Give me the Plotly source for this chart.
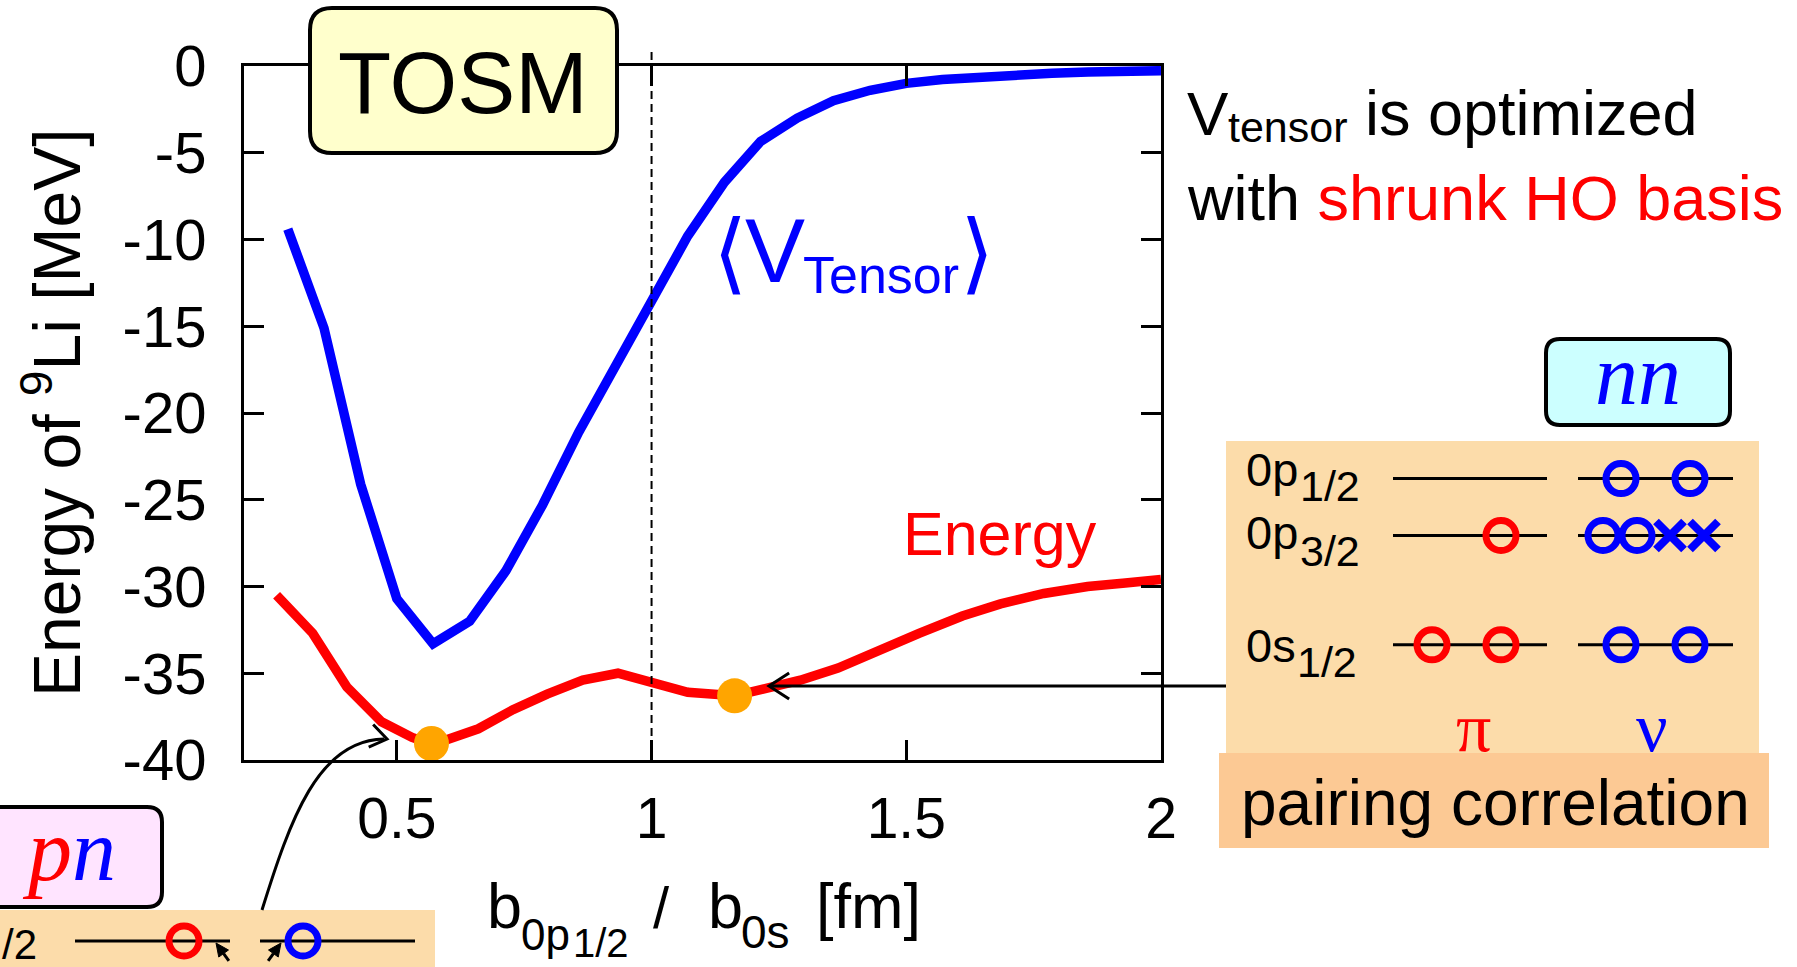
import math
import plotly.graph_objects as go

# ---------------------------------------------------------------- data
# b_{0p1/2} / b_{0s} values and the tensor-force expectation value [MeV]
b_vtensor = [0.286, 0.357, 0.429, 0.500, 0.571, 0.643, 0.714, 0.786, 0.857,
             0.929, 1.000, 1.071, 1.143, 1.214, 1.286, 1.357, 1.429, 1.500,
             1.571, 1.643, 1.714, 1.786, 1.857, 1.929, 2.000]
v_tensor = [-9.4, -15.1, -24.1, -30.7, -33.3, -32.0, -29.1, -25.3, -21.1,
            -17.3, -13.3, -9.8, -6.7, -4.35, -3.0, -2.0, -1.4, -1.0,
            -0.78, -0.62, -0.5, -0.42, -0.35, -0.3, -0.27]

# total energy of 9Li [MeV]
b_energy = [0.264, 0.335, 0.402, 0.470, 0.530, 0.571, 0.660, 0.728, 0.795,
            0.865, 0.934, 1.000, 1.071, 1.163, 1.218, 1.292, 1.366, 1.450,
            1.525, 1.610, 1.685, 1.770, 1.856, 1.930, 2.000]
energy = [-30.5, -32.7, -35.8, -37.8, -38.7, -39.1, -38.2, -37.1, -36.2,
          -35.4, -35.0, -35.5, -36.1, -36.3, -35.9, -35.4, -34.7, -33.6,
          -32.7, -31.7, -31.0, -30.4, -30.0, -29.8, -29.6]

# highlighted minima (pn and nn configurations)
b_marked = [0.568, 1.163]
e_marked = [-39.05, -36.3]

x_tickvals = [0.5, 1.0, 1.5, 2.0]
x_ticktext = ["0.5", "1", "1.5", "2"]
y_tickvals = [0, -5, -10, -15, -20, -25, -30, -35, -40]
y_ticktext = ["0", "-5", "-10", "-15", "-20", "-25", "-30", "-35", "-40"]

# ---------------------------------------------------------------- layout constants
W, H = 1797, 967
L, R, T, B = 244, 1161, 66, 760          # frame of the main plot (pixels)
SANS = "Liberation Sans, Arial, Helvetica, sans-serif"
SERIF = "Liberation Serif, Times New Roman, serif"
MATH = "DejaVu Sans, sans-serif"
RED, BLUE, BLACK = "#FF0000", "#0000FF", "#000000"
PEACH, PEACH_DARK = "#FCDCAA", "#FCC994"

fig = go.Figure()

fig.add_trace(go.Scatter(x=b_vtensor, y=v_tensor, mode="lines",
                         line=dict(color=BLUE, width=9.5), hoverinfo="skip"))
fig.add_trace(go.Scatter(x=b_energy, y=energy, mode="lines",
                         line=dict(color=RED, width=9.5), hoverinfo="skip"))
fig.add_trace(go.Scatter(x=b_marked, y=e_marked, mode="markers",
                         marker=dict(color="#FFA500", size=35), hoverinfo="skip"))

# ---------------------------------------------------------------- helpers (pixel space on x2/y2)
shapes, annotations = [], []


def pshape(**kw):
    d = dict(xref="x2", yref="y2")
    d.update(kw)
    shapes.append(d)


def rrect(x0, y0, x1, y1, r):
    return (f"M {x0+r},{y0} L {x1-r},{y0} Q {x1},{y0} {x1},{y0+r} "
            f"L {x1},{y1-r} Q {x1},{y1} {x1-r},{y1} L {x0+r},{y1} "
            f"Q {x0},{y1} {x0},{y1-r} L {x0},{y0+r} Q {x0},{y0} {x0+r},{y0} Z")


def vhead(tx, ty, dx, dy, length=22, half=32):
    n = math.hypot(dx, dy)
    bx, by = -dx / n, -dy / n
    a = math.radians(half)
    p = []
    for s in (a, -a):
        rx = bx * math.cos(s) - by * math.sin(s)
        ry = bx * math.sin(s) + by * math.cos(s)
        p.append((tx + rx * length, ty + ry * length))
    return f"M {p[0][0]},{p[0][1]} L {tx},{ty} L {p[1][0]},{p[1][1]}"


def solid_arrow(tx, ty, dx, dy, length=13, half_w=6, tail=9):
    n = math.hypot(dx, dy)
    ux, uy = dx / n, dy / n
    nx, ny = -uy, ux
    bx, by = tx - ux * length, ty - uy * length
    head = (f"M {tx},{ty} L {bx + nx*half_w},{by + ny*half_w} "
            f"L {bx - nx*half_w},{by - ny*half_w} Z")
    pshape(type="path", path=head, fillcolor=BLACK,
           line=dict(color=BLACK, width=1), layer="above")
    pshape(type="line", x0=bx, y0=by, x1=bx - ux * tail, y1=by - uy * tail,
           line=dict(color=BLACK, width=3), layer="above")


def text(x, base, s, size, color=BLACK, family=SANS, xanchor="left",
         asc=0.905, desc=0.212, angle=0):
    yc = base - (asc - desc) / 2 * size
    annotations.append(dict(x=x, y=yc, xref="x2", yref="y2", text=s,
                            showarrow=False, xanchor=xanchor, yanchor="middle",
                            borderpad=0, textangle=angle,
                            font=dict(size=size, color=color, family=family)))


# ---------------------------------------------------------------- vertical reference line at b = 1
shapes.append(dict(type="line", xref="x", yref="paper", x0=1.0, x1=1.0,
                   y0=1 - 52 / H, y1=1 - B / H,
                   line=dict(color=BLACK, width=2, dash="8px,5px"), layer="above"))

# ---------------------------------------------------------------- TOSM label box
pshape(type="path", path=rrect(310, 8, 617, 153, 22), fillcolor="#FFFFCC",
       line=dict(color=BLACK, width=4), layer="above")
text(463, 113, "TOSM", 87, xanchor="center")

# ---------------------------------------------------------------- curve labels
text(730, 283, "⟨", 88, BLUE, MATH, "center", 0.928, 0.236)
text(744, 282, "V", 90, BLUE)
text(802, 293, "Tensor", 52, BLUE)
text(977, 283, "⟩", 88, BLUE, MATH, "center", 0.928, 0.236)
text(902, 555, "Energy", 61, RED)

# ---------------------------------------------------------------- right-hand remark
text(1186, 135, "V", 62)
text(1227, 142, "tensor", 43)
text(1364, 135, "is optimized", 63)
text(1186, 220, "with <span style='color:#FF0000'>shrunk HO basis</span>", 63)

# ---------------------------------------------------------------- axis titles
text(52, 413 + 0.3465 * 66, "Energy of <sup>9</sup>Li [MeV]", 66, angle=-90,
     xanchor="center")
text(486, 928, "b", 63)
text(520, 950, "0p", 44)
text(572, 957, "1/2", 40)
text(652, 928, "/", 58)
text(707, 928, "b", 63)
text(740, 948, "0s", 46)
text(815, 928, "[fm]", 63)

# ---------------------------------------------------------------- nn configuration panel
pshape(type="path", path=rrect(1546, 339, 1730, 425, 14), fillcolor="#CCFFFF",
       line=dict(color=BLACK, width=4), layer="above")
text(1638, 404, "<i>nn</i>", 86, BLUE, SERIF, "center", 0.891, 0.216)

pshape(type="rect", x0=1226, x1=1759, y0=441, y1=753, fillcolor=PEACH,
       line=dict(width=0), layer="below")
pshape(type="rect", x0=1219, x1=1769, y0=753, y1=848, fillcolor=PEACH_DARK,
       line=dict(width=0), layer="below")

levels = [("0p", "1/2", 478.6, 486, 501),
          ("0p", "3/2", 535.5, 549, 566),
          ("0s", "1/2", 644.8, 662, 677)]
for main, sub, yl, base, sbase in levels:
    for x0, x1 in ((1393, 1547), (1578, 1733)):
        pshape(type="line", x0=x0, x1=x1, y0=yl, y1=yl,
               line=dict(color=BLACK, width=3), layer="below")
    text(1245, base, main, 47)
    text(1299 if main == "0p" else 1296, sbase, sub, 43)

text(1473, 751, "π", 70, RED, SERIF, "center", 0.891, 0.216)
text(1652, 751, "ν", 70, BLUE, SERIF, "center", 0.891, 0.216)
text(1240, 825, "pairing correlation", 64)

# arrow from the nn panel to the second minimum
pshape(type="line", x0=1226, x1=770, y0=686, y1=686,
       line=dict(color=BLACK, width=3), layer="above")
pshape(type="path", path=vhead(769, 686, -1, 0, 24, 33),
       line=dict(color=BLACK, width=3), layer="above")

# ---------------------------------------------------------------- pn configuration panel
pshape(type="path", path=rrect(-20, 807, 162, 907, 15), fillcolor="#FFE4FF",
       line=dict(color=BLACK, width=4), layer="above")
text(69, 880, "<i><span style='color:#FF0000'>p</span>"
              "<span style='color:#0000FF'>n</span></i>", 88, BLACK, SERIF,
     "center", 0.891, 0.216)
pshape(type="rect", x0=-5, x1=435, y0=910, y1=975, fillcolor=PEACH,
       line=dict(width=0), layer="below")
for x0, x1 in ((75, 230), (260, 415)):
    pshape(type="line", x0=x0, x1=x1, y0=941, y1=941,
           line=dict(color=BLACK, width=3), layer="below")
text(1, 959, "/2", 42)
solid_arrow(216, 943, -13, -18)
solid_arrow(281, 943, 13, -18)

# curved arrow from the pn panel to the first minimum
pshape(type="path", path="M 262,910 C 290,820 318,740 384,739",
       line=dict(color=BLACK, width=3), layer="above")
pshape(type="path", path=vhead(387, 739, 1, 0.2, 20, 35),
       line=dict(color=BLACK, width=3), layer="above")

# ---------------------------------------------------------------- occupation markers
red_x = [1501, 1432, 1501, 184]
red_y = [535.5, 644.8, 644.8, 941]
blue_x = [1621, 1690, 1603, 1637, 1621, 1690, 303]
blue_y = [478.6, 478.6, 535.5, 535.5, 644.8, 644.8, 941]
hole_x = [1670, 1704]
hole_y = [535.5, 535.5]
ring = dict(symbol="circle-open", size=30)
fig.add_trace(go.Scatter(x=red_x, y=red_y, xaxis="x2", yaxis="y2", mode="markers",
                         marker=dict(**ring, color=RED, line=dict(width=7, color=RED)),
                         cliponaxis=False, hoverinfo="skip"))
fig.add_trace(go.Scatter(x=blue_x, y=blue_y, xaxis="x2", yaxis="y2", mode="markers",
                         marker=dict(**ring, color=BLUE, line=dict(width=7, color=BLUE)),
                         cliponaxis=False, hoverinfo="skip"))
fig.add_trace(go.Scatter(x=hole_x, y=hole_y, xaxis="x2", yaxis="y2", mode="markers",
                         marker=dict(symbol="x-thin", size=28, color=BLUE,
                                     line=dict(width=8, color=BLUE)),
                         cliponaxis=False, hoverinfo="skip"))

# ---------------------------------------------------------------- axes
axis_common = dict(showline=True, linewidth=3, linecolor=BLACK, mirror="ticks",
                   ticks="inside", ticklen=20, tickwidth=3, tickcolor=BLACK,
                   showgrid=False, zeroline=False, automargin=False,
                   fixedrange=True)
fig.update_layout(
    width=W, height=H, autosize=False,
    margin=dict(l=0, r=0, t=0, b=0),
    paper_bgcolor="white", plot_bgcolor="rgba(0,0,0,0)",
    showlegend=False,
    font=dict(family=SANS, color=BLACK),
    xaxis=dict(domain=[L / W, R / W], range=[0.2, 2.0], anchor="y",
               tickvals=x_tickvals, ticktext=x_ticktext,
               tickfont=dict(size=57, family=SANS, color=BLACK),
               ticklabelstandoff=7, **axis_common),
    yaxis=dict(domain=[1 - B / H, 1 - T / H], range=[-40, 0], anchor="x",
               tickvals=y_tickvals, ticktext=y_ticktext,
               tickfont=dict(size=58, family=SANS, color=BLACK),
               ticklabelstandoff=23, **axis_common),
    xaxis2=dict(domain=[0, 1], range=[0, W], anchor="y2", visible=False,
                fixedrange=True),
    yaxis2=dict(domain=[0, 1], range=[H, 0], anchor="x2", visible=False,
                fixedrange=True),
    shapes=shapes,
    annotations=annotations,
)

fig.write_html("out.html")
